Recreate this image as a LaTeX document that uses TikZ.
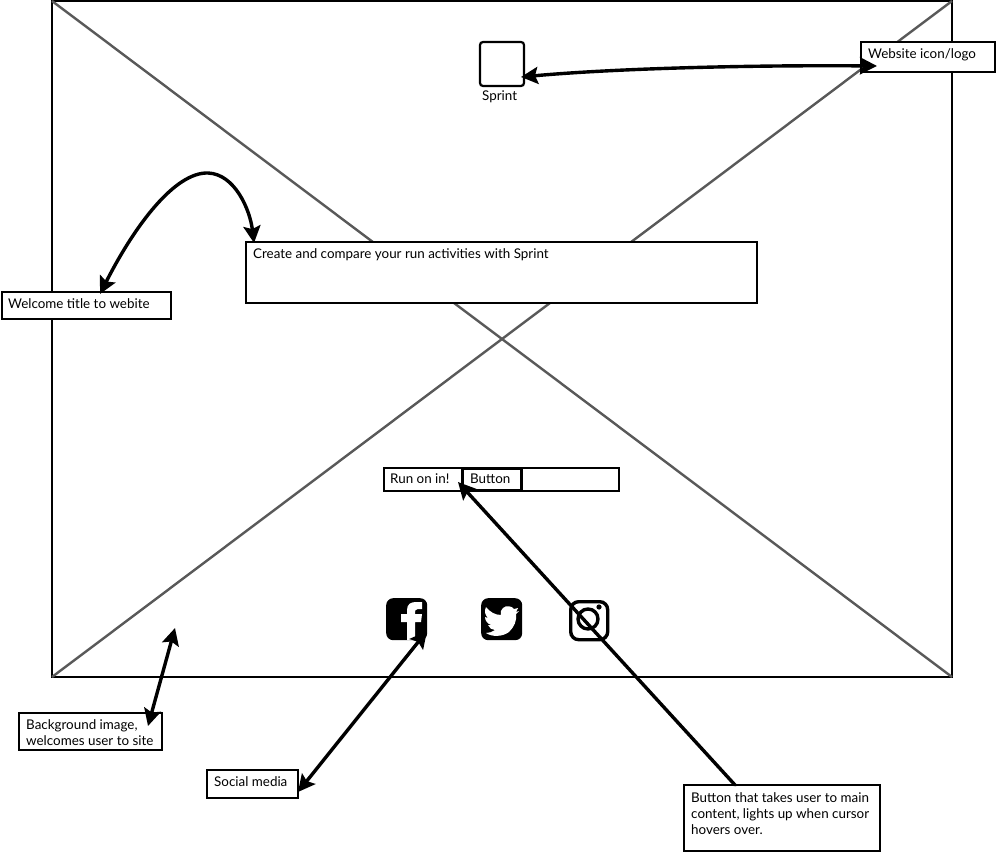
\documentclass[tikz,border=0pt]{standalone}
\usepackage{fontspec}
\setmainfont{Lato}
\usetikzlibrary{arrows.meta}
\tikzset{
  x=1pt,y=-1pt,
  box/.style={draw=black,fill=white,line width=2.2pt,rectangle,anchor=north west,inner sep=0pt,outer sep=0pt},
  note/.style={anchor=west,inner sep=0pt,font=\fontsize{13.4}{15}\selectfont,text=black,align=left},
  link/.style={draw=black,line width=3.4pt,line cap=round},
  onehead/.style={link,-{Stealth[length=17pt,width=17pt,inset=3pt]}},
  twohead/.style={link,{Stealth[length=17pt,width=17pt,inset=3pt]}-{Stealth[length=17pt,width=17pt,inset=3pt]}},
  cross/.style={draw=black!65,line width=2.4pt},
  icon/.style={fill=black,draw=none,rounded corners=7pt}
}
\begin{document}
\begin{tikzpicture}
\useasboundingbox (0,0) rectangle (996,853);
\fill[white] (0,0) rectangle (996,853);
% background image placeholder
\node[box,fill=none,minimum width=900pt,minimum height=676pt] (frame) at (52,1) {};
\draw[cross] (frame.north west) -- (frame.south east);
\draw[cross] (frame.north east) -- (frame.south west);
% logo
\node[box,rounded corners=3pt,minimum width=44pt,minimum height=44pt] (logo) at (480,42) {};
\node[note] (sprint) at (482,97) {Sprint};
% title
\node[box,minimum width=511pt,minimum height=61pt] (title) at (246,242) {};
\node[note] (titletext) at (253,255) {Create and compare your run activities with Sprint};
% input and button
\node[box,minimum width=235pt,minimum height=23pt] (input) at (384,468) {};
\node[note] (runtext) at (390,479) {Run on in!};
\node[box,line width=3pt,minimum width=59pt,minimum height=22pt] (button) at (462,468) {};
\node[note] (buttontext) at (470,479) {Button};
% facebook
\node[icon,anchor=north west,minimum width=41pt,minimum height=42pt,inner sep=0pt] (fb) at (386,598) {};
\fill[white] (407,640) -- (407,622) -- (401,622) -- (401,614) -- (407,614) -- (407,610)
  .. controls (407,604) and (411,602) .. (416,602) -- (422,602) -- (422,609) -- (418,609)
  .. controls (415,609) and (415,611) .. (415,613) -- (415,614) -- (422,614) -- (421,622)
  -- (415,622) -- (415,640) -- cycle;
% twitter
\node[icon,anchor=north west,minimum width=41pt,minimum height=42pt,inner sep=0pt] (tw) at (481,598) {};
\fill[white] (514,609) .. controls (512,606) and (506,605) .. (503,608)
  .. controls (501,610) and (500,612) .. (501,615)
  .. controls (495,615) and (490,612) .. (486,607)
  .. controls (484,611) and (485,615) .. (488,618)
  -- (485,617) .. controls (485,621) and (488,624) .. (491,625)
  -- (488,625) .. controls (489,628) and (492,630) .. (495,630)
  .. controls (492,632) and (489,633) .. (486,633)
  .. controls (492,637) and (502,637) .. (509,632)
  .. controls (514,627) and (517,621) .. (516,614)
  -- (519,611) -- (516,612) -- (518,608) -- cycle;
% instagram
\node[draw=black,line width=3.4pt,rounded corners=8pt,anchor=north west,minimum width=37pt,minimum height=38pt,inner sep=0pt] (ig) at (569,600) {};
\draw[black,line width=3.4pt] (588,619) circle (10pt);
\fill[black] (599,607) circle (2.6pt);
% callouts
\node[box,minimum width=134pt,minimum height=30pt] (logonote) at (861,42) {};
\node[note] (logotext) at (868,55) {Website icon/logo};
\node[box,minimum width=169pt,minimum height=27pt] (welcome) at (2,292) {};
\node[note] (welcometext) at (8,304) {Welcome title to webite};
\node[box,minimum width=143pt,minimum height=37pt] (bgnote) at (19,713) {};
\node[note,font=\fontsize{13.4}{16}\selectfont] (bgtext) at (26,733) {Background image,\\welcomes user to site};
\node[box,minimum width=91pt,minimum height=28pt] (socialnote) at (207,770) {};
\node[note] (socialtext) at (214,782) {Social media};
\node[box,minimum width=196pt,minimum height=66pt] (btnnote) at (684,785) {};
\node[note,font=\fontsize{13.4}{16}\selectfont] (btntext) at (691,814) {Button that takes user to main\\content, lights up when cursor\\hovers over.};
% free ends of connectors
\coordinate (logoend) at (521,77);
\coordinate (logonoteend) at (877,66);
\coordinate (welcomeend) at (100,294);
\coordinate (titleend) at (254,243);
\coordinate (bgstart) at (175,628);
\coordinate (bgend) at (148,726);
\coordinate (fbend) at (427,631);
\coordinate (socialend) at (298,792);
\coordinate (btnstart) at (735,785);
\coordinate (btnend) at (458,482);
% connectors
\draw[twohead] (logoend) .. controls (620,68) and (760,65) .. (logonoteend);
\draw[twohead] (welcomeend) .. controls (135,225) and (175,172) .. (208,173) .. controls (235,174) and (250,210) .. (titleend);
\draw[twohead] (bgstart) -- (bgend);
\draw[twohead] (fbend) -- (socialend);
\draw[onehead] (btnstart) -- (btnend);
\end{tikzpicture}
\end{document}
